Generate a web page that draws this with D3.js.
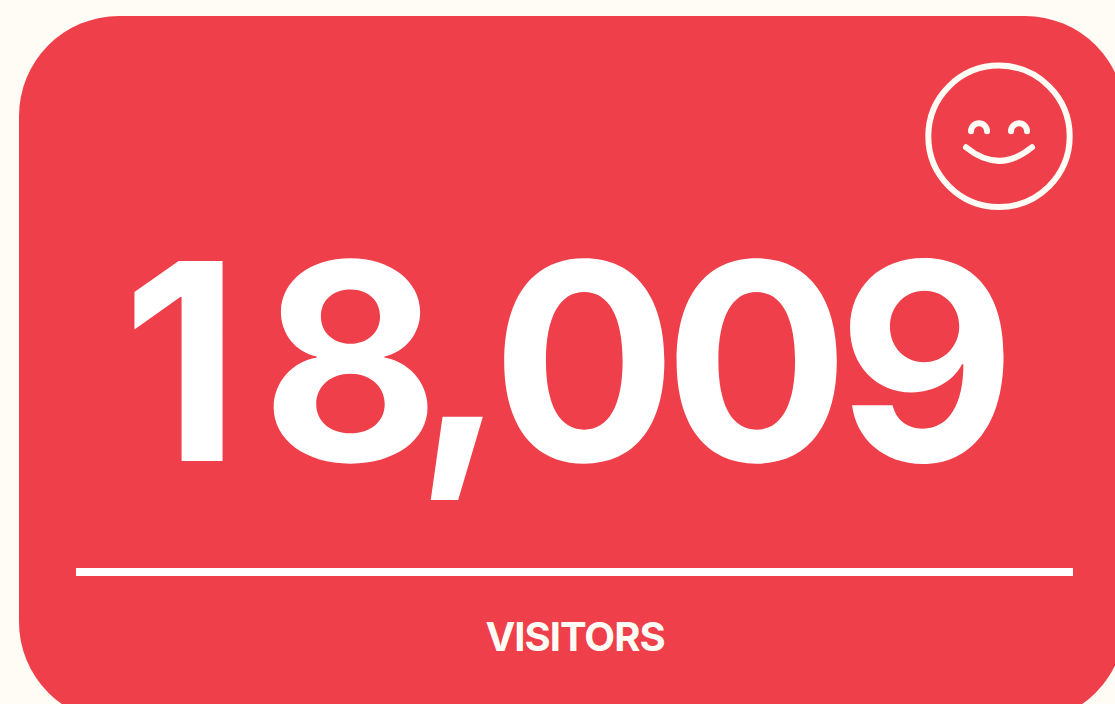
<!DOCTYPE html>
<html>
<head>
<meta charset="utf-8">
<script src="https://cdn.jsdelivr.net/npm/d3@7"></script>
<style>
    html, body { margin: 0; padding: 0; background: #fffcf5; overflow: hidden; }
    text { font-family: Inter, sans-serif; }
</style>
</head>
<body>
<svg width="1115" height="704"></svg>
<script>
// Values shown on the card
const visitors = [18009];
const labels = ["VISITORS"];

const red = "#ef3f4a";
const cream = "#fffcf5";

const svg = d3.select("svg");

// Card background, runs a little off the right and bottom edges
svg.append("rect")
    .attr("x", 19)
    .attr("y", 16)
    .attr("width", 1106)
    .attr("height", 706)
    .attr("rx", 100)
    .attr("ry", 100)
    .attr("fill", red);

// Big number, glyphs nudged by hand to sit like the original's spacing
svg.selectAll(".value")
    .data(visitors)
    .enter()
    .append("text")
    .attr("class", "value")
    .attr("x", 556.5)
    .attr("y", 461)
    .attr("text-anchor", "middle")
    .attr("font-size", 275)
    .attr("font-weight", 700)
    .attr("letter-spacing", -3)
    .attr("dx", "11 23.5 -16.5 -4 -10 -9")
    .attr("dy", "0 0 -14 14 0 0")
    .attr("fill", "#ffffff")
    .text(d => d3.format(",")(d));

// Divider
svg.append("rect")
    .attr("x", 76)
    .attr("y", 568)
    .attr("width", 997)
    .attr("height", 8)
    .attr("fill", "#ffffff");

// Label under the divider
svg.selectAll(".label")
    .data(labels)
    .enter()
    .append("text")
    .attr("class", "label")
    .attr("x", 575)
    .attr("y", 651)
    .attr("text-anchor", "middle")
    .attr("font-size", 40)
    .attr("font-weight", 700)
    .attr("letter-spacing", -1)
    .attr("fill", cream)
    .text(d => d);

// Smiley icon
const face = svg.append("g")
    .attr("transform", "translate(999, 136.3)")
    .attr("fill", "none")
    .attr("stroke", cream)
    .attr("stroke-width", 6)
    .attr("stroke-linecap", "round");

face.append("circle")
    .attr("r", 70.7);

face.append("path")
    .attr("d", "M-33,11 Q0,38 33,11");

face.append("path")
    .attr("d", "M-28,-5 A8,8 0 0 1 -12,-5");

face.append("path")
    .attr("d", "M12,-5 A8,8 0 0 1 28,-5");
</script>
</body>
</html>
